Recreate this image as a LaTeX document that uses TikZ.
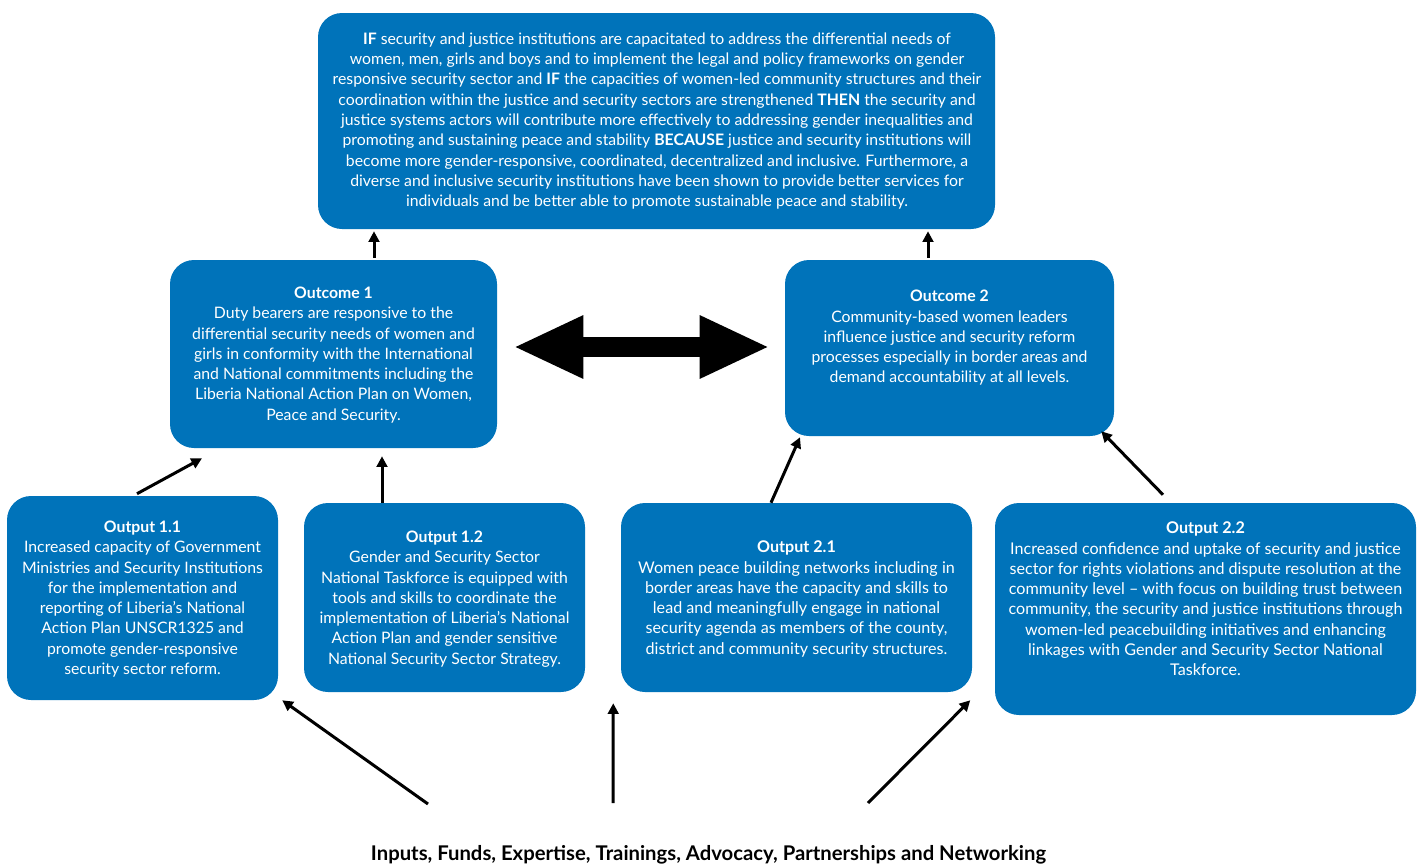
\documentclass[tikz,border=0pt]{standalone}
\usepackage{fontspec}
\setmainfont{Lato}
\usetikzlibrary{arrows.meta,calc}
\definecolor{boxblue}{RGB}{0,115,186}
\tikzset{
  box/.style={fill=boxblue, rounded corners=18pt, inner sep=0pt, draw=none},
  txt/.style={text=white, align=center, inner sep=0pt, font=\fontsize{11.85}{15.2}\selectfont},
  wtxt/.style={txt, font=\fontsize{12.1}{15.2}\selectfont},
  arr/.style={line width=2.25pt, -{Triangle[length=8pt,width=8pt]}},
  dbl/.style={line width=15pt, {Triangle[length=52.5pt,width=43.5pt]}-{Triangle[length=52.5pt,width=43.5pt]}}
}
\begin{document}
\begin{tikzpicture}[x=0.75pt,y=-0.75pt]
\useasboundingbox (0,0) rectangle (1422,864);
% boxes
\node[box, minimum width=507.75pt, minimum height=162pt] (top) at (656.5,121) {};
\node[box, minimum width=245.25pt, minimum height=141pt] (o1) at (333.5,354) {};
\node[box, minimum width=246.75pt, minimum height=132pt] (o2) at (949.5,348) {};
\node[box, minimum width=203.25pt, minimum height=153pt] (p11) at (142.5,598) {};
\node[box, minimum width=210.75pt, minimum height=141.75pt] (p12) at (444.5,597.5) {};
\node[box, minimum width=263.25pt, minimum height=141.75pt] (p21) at (796.5,597.5) {};
\node[box, minimum width=315.75pt, minimum height=159pt] (p22) at (1205.5,609) {};
% texts
\node[txt] (ttop) at (657,121) {\textbf{IF} security and justice institutions are capacitated to address the differential needs of\\
women, men, girls and boys and to implement the legal and policy frameworks on gender\\
responsive security sector and \textbf{IF} the capacities of women-led community structures and their\\
coordination within the justice and security sectors are strengthened \textbf{THEN} the security and\\
justice systems actors will contribute more effectively to addressing gender inequalities and\\
promoting and sustaining peace and stability \textbf{BECAUSE} justice and security institutions will\\
become more gender-responsive, coordinated, decentralized and inclusive. Furthermore, a\\
diverse and inclusive security institutions have been shown to provide better services for\\
individuals and be better able to promote sustainable peace and stability.};
\node[txt] (to1) at (333.5,355) {\textbf{Outcome 1}\\
Duty bearers are responsive to the\\
differential security needs of women and\\
girls in conformity with the International\\
and National commitments including the\\
Liberia National Action Plan on Women,\\
Peace and Security.};
\node[txt] (to2) at (949.5,338) {\textbf{Outcome 2}\\
Community-based women leaders\\
influence justice and security reform\\
processes especially in border areas and\\
demand accountability at all levels.};
\node[txt] (tp11) at (142.5,599) {\textbf{Output 1.1}\\
Increased capacity of Government\\
Ministries and Security Institutions\\
for the implementation and\\
reporting of Liberia’s National\\
Action Plan UNSCR1325 and\\
promote gender-responsive\\
security sector reform.};
\node[txt] (tp12) at (444.5,599) {\textbf{Output 1.2}\\
Gender and Security Sector\\
National Taskforce is equipped with\\
tools and skills to coordinate the\\
implementation of Liberia’s National\\
Action Plan and gender sensitive\\
National Security Sector Strategy.};
\node[wtxt] (tp21) at (796.5,599) {\textbf{Output 2.1}\\
Women peace building networks including in\\
border areas have the capacity and skills to\\
lead and meaningfully engage in national\\
security agenda as members of the county,\\
district and community security structures.};
\node[wtxt] (tp22) at (1205.5,599) {\textbf{Output 2.2}\\
Increased confidence and uptake of security and justice\\
sector for rights violations and dispute resolution at the\\
community level – with focus on building trust between\\
community, the security and justice institutions through\\
women-led peacebuilding initiatives and enhancing\\
linkages with Gender and Security Sector National\\
Taskforce.};
\node[inner sep=0pt, font=\bfseries\fontsize{15.2}{17}\selectfont] (inp) at (708.5,855) {Inputs, Funds, Expertise, Trainings, Advocacy, Partnerships and Networking};
% connectors
\draw[arr] ($(o1.north)+(40.5,-2)$) -- ($(top.south)+(-282.5,2)$);
\draw[arr] ($(o2.north)+(-21.5,-2)$) -- ($(top.south)+(271.5,2)$);
\draw[dbl] ($(o1.east)+(16,-7)$) -- ($(o2.west)+(-15,-1)$);
\draw[arr] ($(p11.north)+(-5.5,-2)$) -- ($(o1.south)+(-131.5,10)$);
\draw[arr] ($(p12.north)+(-62.5,0)$) -- ($(o1.south)+(48.5,8)$);
\draw[arr] ($(p21.north)+(-25.5,0)$) -- ($(o2.south)+(-149.5,1)$);
\draw[arr] ($(p22.north)+(-42.5,-8)$) -- ($(o2.south east)+(-13,-5)$);
\draw[arr] ($(inp.center)+(-280.5,-51)$) -- ($(p11.south east)+(4,0)$);
\draw[arr] ($(inp.center)+(-95.5,-52)$) -- ($(p12.south east)+(28,11)$);
\draw[arr] ($(inp.center)+(159.5,-52)$) -- ($(p21.south east)+(-2,8)$);
\end{tikzpicture}
\end{document}
